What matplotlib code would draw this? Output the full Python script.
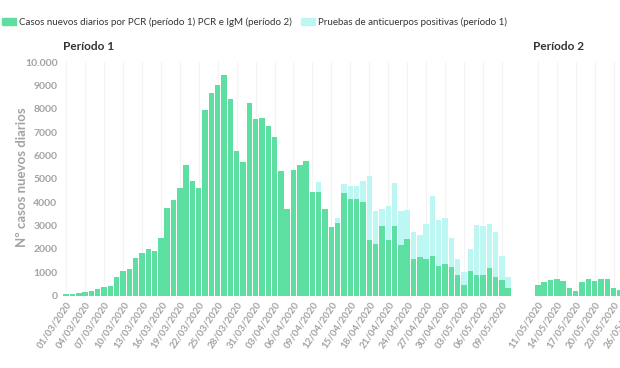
import numpy as np
import pandas as pd
import matplotlib.pyplot as plt
from matplotlib.patches import Patch

# Period 1: 01/03/2020 - 10/05/2020, PCR cases and positive antibody tests
pcr_p1 = [57, 70, 100, 130, 210, 285, 355, 415, 785, 1055,
          1155, 1585, 1810, 1985, 1910, 2480, 3750, 4110, 4610, 5610,
          4890, 4610, 7950, 8690, 9020, 9460, 8400, 6200, 5720, 8260,
          7560, 7620, 7260, 6790, 5350, 3710, 5390, 5610, 5750, 4450,
          4440, 3710, 2940, 3120, 4410, 4120, 4120, 4010, 2380, 2210,
          2980, 2380, 2980, 2180, 2440, 1580, 1640, 1580, 1700, 1280,
          1360, 1210, 880, 430, 1030, 870, 880, 1160, 800, 670, 330]
anticuerpos_p1 = [0] * 40 + [400, 0, 0, 190, 350, 590, 570, 900, 2740, 1410,
                             710, 1440, 1830, 1430, 1210, 1160, 930, 1470, 2580, 1940,
                             1980, 1240, 690, 570, 970, 2170, 2100, 1890, 1940, 1030, 480]

# Period 2: from 11/05/2020, PCR + IgM
pcr_p2 = [430, 585, 670, 700, 640, 315, 200, 570, 713, 630, 700, 700, 300, 240]

dates_p1 = pd.date_range("2020-03-01", periods=len(pcr_p1), freq="D")
# tick dates of period 2 run past the visible bars (the chart is cut at the right)
dates_p2 = pd.date_range("2020-05-11", "2020-05-26", freq="3D")

green = "#5ddfa2"
cyan = "#bdf7f4"
gray = "#a3a3a3"

plt.rcParams['font.family'] = ['Lato', 'DejaVu Sans']

fig = plt.figure(figsize=(6.2, 3.68), dpi=100)
ax = fig.add_axes([63 / 620, 72.5 / 368, 91 * 6.315 / 620, 233.5 / 368])

x1 = np.arange(len(pcr_p1))
x2 = 74.7 + np.arange(len(pcr_p2))

ax.bar(x1, pcr_p1, width=0.86, color=green, zorder=2)
ax.bar(x1, anticuerpos_p1, bottom=pcr_p1, width=0.86, color=cyan, zorder=2)
ax.bar(x2, pcr_p2, width=0.86, color=green, zorder=2)

ax.set_xlim(-0.5, 90.5)
ax.set_ylim(0, 10000)

ticks = list(x1[::3]) + list(74.7 + 3 * np.arange(len(dates_p2)))
labels = [d.strftime("%d/%m/%Y") for d in dates_p1[::3]] + \
         [d.strftime("%d/%m/%Y") for d in dates_p2]
ax.set_xticks(ticks)
ax.set_xticklabels(labels, rotation=56, ha="right", va="top",
                   rotation_mode="anchor", fontsize=7, fontweight="bold", color=gray)

yt = np.arange(0, 10001, 1000)
ax.set_yticks(yt)
ax.set_yticklabels([("10.000" if v == 10000 else str(v)) for v in yt],
                   fontsize=7.5, fontweight="bold", color=gray)
ax.tick_params(length=0, pad=4)
ax.tick_params(axis="x", pad=3)

for s in ax.spines.values():
    s.set_visible(False)
ax.grid(axis="x", color="#f3f3f3", lw=0.8, zorder=0)

fig.text(22 / 620, 1 - 177 / 368, "Nº casos nuevos diarios", rotation=90,
         ha="center", va="center", fontsize=9.5, fontweight="bold", color=gray)

fig.text(63 / 620, 1 - 47 / 368, "Período 1", fontsize=8.5, fontweight="bold",
         color="#333333", ha="left", va="center")
fig.text(533 / 620, 1 - 47 / 368, "Período 2", fontsize=8.5, fontweight="bold",
         color="#333333", ha="left", va="center")

handles = [Patch(color=green), Patch(color=cyan)]
fig.legend(handles,
           ["Casos nuevos diarios por PCR (período 1) PCR e IgM (período 2)",
            "Pruebas de anticuerpos positivas (período 1)"],
           loc="center left", bbox_to_anchor=(2 / 620, 1 - 22 / 368), ncol=2,
           frameon=False, fontsize=7, handlelength=1.4, handleheight=0.8,
           handletextpad=0.3, columnspacing=1.0, labelcolor="#333333",
           borderpad=0, borderaxespad=0)

fig.savefig("out.png", dpi=100)
